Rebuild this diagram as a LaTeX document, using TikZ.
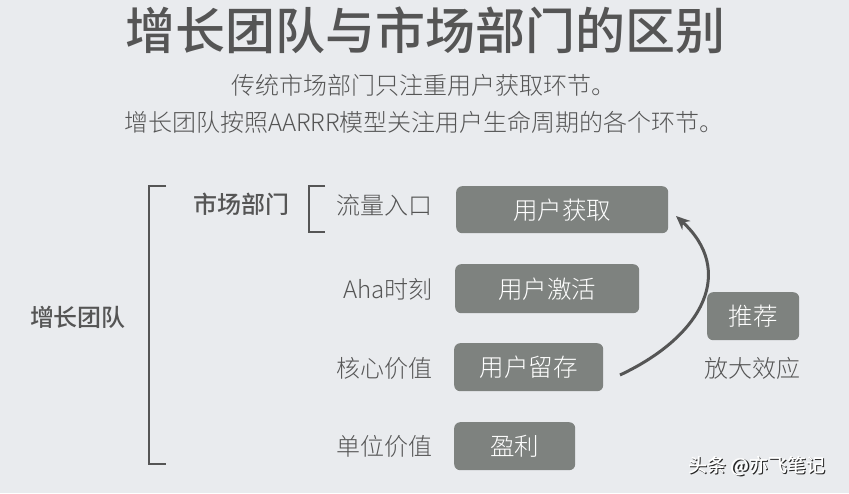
\documentclass[tikz,border=0pt]{standalone}
\usepackage{fontspec}
\setmainfont{Noto Sans CJK SC}
\newfontfamily\lightcjk{Noto Sans CJK SC Light}
\newfontfamily\medcjk{Noto Sans CJK SC Medium}
\usetikzlibrary{arrows.meta}
\definecolor{bgc}{HTML}{E9EBEE}
\definecolor{txt}{HTML}{555555}
\definecolor{boxc}{HTML}{7E827F}
\begin{document}
\begin{tikzpicture}[x=1pt,y=-1pt,
  title/.style={text=txt,font=\fontsize{50}{50}\medcjk,inner sep=0pt},
  sub/.style={text=txt,font=\fontsize{24}{24}\lightcjk,inner sep=0pt},
  lab/.style={text=txt,font=\fontsize{24}{24}\lightcjk,inner sep=0pt},
  blab/.style={text=txt,font=\fontsize{24}{24}\medcjk,inner sep=0pt},
  gbox/.style={fill=boxc,rounded corners=6pt,text=white,font=\fontsize{24.5}{24.5}\lightcjk,inner sep=0pt,anchor=north west},
  brk/.style={draw=txt,line width=2pt},
  arr/.style={draw=txt,line width=3pt,-{Stealth[length=14pt,width=12pt]}},
  wmk/.style={font=\fontsize{19}{19}\medcjk,inner sep=0pt},
]
\fill[bgc] (0,0) rectangle (849,493);
\useasboundingbox (0,0) rectangle (849,493);

\node[title] (t) at (425,30) {增长团队与市场部门的区别};
\node[sub] (s1) at (423,85) {传统市场部门只注重用户获取环节。};
\node[sub] (s2) at (424,122) {增长团队按照AARRR模型关注用户生命周期的各个环节。};

% big bracket
\coordinate (b1) at (166,186);
\coordinate (b2) at (149,186);
\coordinate (b3) at (149,464);
\coordinate (b4) at (166,464);
\draw[brk] (b1) -- (b2) -- (b3) -- (b4);
\node[blab] (grow) at (78,317) {增长团队};

% small bracket
\coordinate (c1) at (325,186);
\coordinate (c2) at (309,186);
\coordinate (c3) at (309,232);
\coordinate (c4) at (325,232);
\draw[brk] (c1) -- (c2) -- (c3) -- (c4);
\node[blab] (mkt) at (241,204) {市场部门};

% labels
\node[lab,anchor=east] (l1) at (433,205) {流量入口};
\node[lab,anchor=east] (l2) at (433,289) {Aha时刻};
\node[lab,anchor=east] (l3) at (433,368) {核心价值};
\node[lab,anchor=east] (l4) at (433,446) {单位价值};

% boxes
\node[gbox,minimum width=212pt,minimum height=47pt] (acq) at (456,186) {用户获取};
\node[gbox,minimum width=184pt,minimum height=49pt] (act) at (455,264) {用户激活};
\node[gbox,minimum width=149pt,minimum height=48pt] (ret) at (454,343) {用户留存};
\node[gbox,minimum width=121pt,minimum height=48pt] (rev) at (454,422) {盈利};
\node[gbox,minimum width=92pt,minimum height=48pt] (ref) at (707,292) {推荐};
\node[lab] (amp) at (752,368) {放大效应};

% arrow
\coordinate (as) at (620,375);
\coordinate (ae) at (676,216);
\draw[arr] (as) .. controls (705,335) and (735,270) .. (ae);

% watermark
\node[wmk,text=black!85] (wms) at (758.2,467.2) {头条 @亦飞笔记};
\node[wmk,text=white] (wm) at (757,466) {头条 @亦飞笔记};
\end{tikzpicture}
\end{document}
